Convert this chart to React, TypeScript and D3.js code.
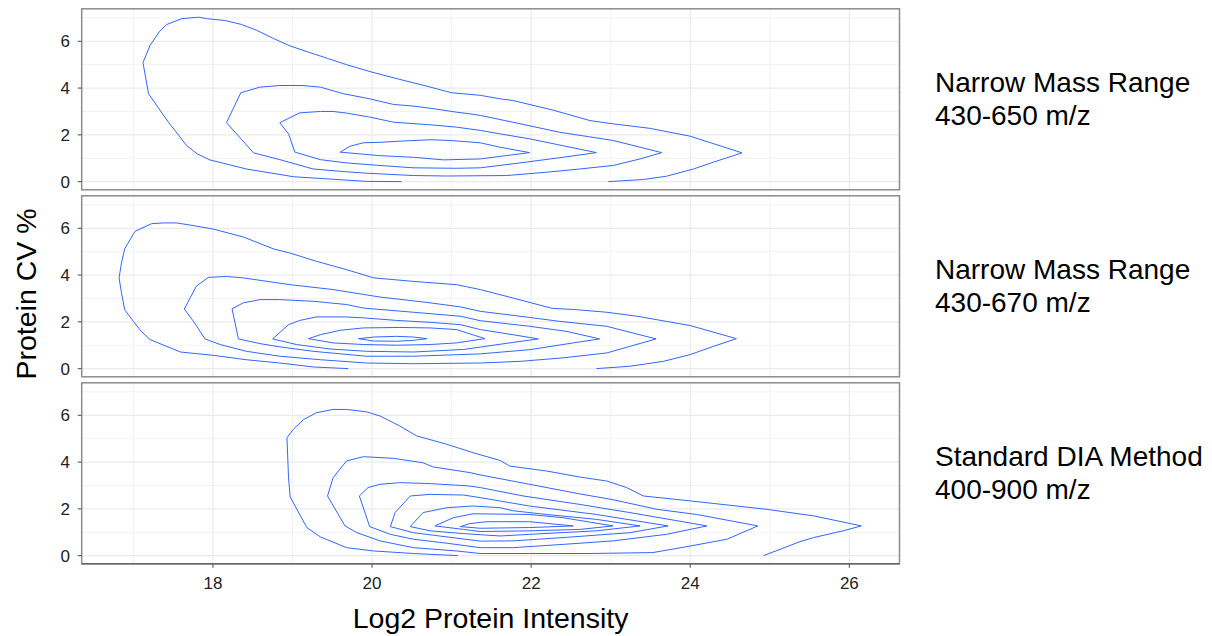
import React from 'react';
import * as d3 from 'd3';

type Pt = [number, number];

const xTicks = [18, 20, 22, 24, 26];
const xMinor = [17, 19, 21, 23, 25];
const yTicks = [0, 2, 4, 6];
const yMinor = [1, 3, 5, 7];

const stripLabels = [
  ['Narrow Mass Range', '430-650 m/z'],
  ['Narrow Mass Range', '430-670 m/z'],
  ['Standard DIA Method', '400-900 m/z'],
];

// density contours, [log2 intensity, CV %]
const narrow650: Pt[][] = [
  [[20.37,0.0],[19.93,0.01],[19.01,0.21],[18.42,0.54],[17.96,0.93],[17.80,1.19],[17.67,1.54],[17.44,2.54],[17.19,3.76],[17.12,5.09],[17.21,5.83],[17.33,6.43],[17.42,6.72],[17.61,6.97],[17.82,7.03],[17.92,6.97],[18.15,6.89],[18.36,6.72],[18.55,6.47],[18.76,6.12],[18.97,5.80],[19.26,5.47],[19.45,5.26],[19.68,5.00],[20.00,4.68],[20.35,4.37],[20.69,4.08],[21.00,3.80],[21.36,3.69],[21.61,3.54],[21.77,3.47],[22.26,3.07],[22.74,2.61],[23.03,2.47],[23.49,2.28],[24.00,1.94],[24.65,1.23],[24.29,0.83],[24.04,0.54],[23.70,0.23],[23.41,0.09],[22.97,0.0]],
  [[18.17,2.52],[18.35,3.80],[18.59,4.04],[18.84,4.11],[19.12,4.11],[19.35,4.04],[19.64,3.76],[19.97,3.54],[20.27,3.30],[20.52,3.23],[20.77,3.12],[21.06,2.97],[21.23,2.90],[21.36,2.83],[21.77,2.54],[22.36,2.11],[23.03,1.76],[23.64,1.24],[23.37,0.97],[23.03,0.69],[22.61,0.54],[22.19,0.40],[21.69,0.26],[20.94,0.24],[20.52,0.26],[19.93,0.36],[19.64,0.43],[19.26,0.54],[18.84,0.94],[18.51,1.23],[18.17,2.52]],
  [[18.84,2.52],[19.09,2.94],[19.35,3.00],[19.51,3.00],[19.68,2.93],[19.97,2.76],[20.27,2.54],[20.73,2.43],[21.06,2.33],[21.36,2.19],[21.61,2.04],[21.98,1.83],[22.82,1.24],[22.40,1.04],[21.77,0.76],[21.36,0.59],[21.06,0.57],[20.52,0.59],[20.10,0.69],[19.68,0.80],[19.35,0.94],[19.03,1.26],[18.95,2.04],[18.84,2.52]],
  [[19.60,1.26],[19.72,1.51],[19.89,1.66],[20.10,1.68],[20.35,1.73],[20.73,1.79],[20.98,1.76],[21.36,1.66],[21.61,1.47],[21.98,1.24],[21.61,1.08],[21.36,0.97],[20.90,0.93],[20.52,1.04],[20.10,1.11],[19.60,1.26]],
];

const narrow670: Pt[][] = [
  [[19.70,0.0],[19.26,0.07],[18.84,0.24],[18.42,0.38],[18.00,0.57],[17.59,0.71],[17.21,1.24],[17.10,1.59],[17.00,2.02],[16.89,2.52],[16.85,3.24],[16.82,3.88],[16.85,4.52],[16.89,5.12],[17.02,5.87],[17.23,6.20],[17.38,6.23],[17.54,6.23],[17.71,6.14],[18.00,5.97],[18.38,5.63],[18.76,5.12],[18.97,4.94],[19.30,4.59],[19.68,4.23],[20.02,3.88],[20.52,3.73],[21.06,3.59],[21.36,3.38],[21.61,3.16],[21.77,3.02],[22.26,2.58],[22.57,2.52],[22.95,2.41],[23.33,2.24],[24.00,1.84],[24.58,1.28],[24.29,0.95],[24.00,0.60],[23.66,0.31],[23.24,0.10],[22.82,0.0]],
  [[17.64,2.55],[17.79,3.52],[17.94,3.90],[18.17,3.94],[18.38,3.88],[18.97,3.59],[19.51,3.38],[20.10,3.06],[20.69,2.83],[21.11,2.64],[21.36,2.45],[21.86,2.24],[22.36,2.02],[22.95,1.81],[23.57,1.27],[23.24,0.95],[22.95,0.67],[22.40,0.46],[21.86,0.31],[21.36,0.24],[20.52,0.21],[19.93,0.24],[19.35,0.38],[18.84,0.53],[18.42,0.74],[18.09,1.03],[17.90,1.27],[17.77,1.95],[17.64,2.55]],
  [[18.24,2.56],[18.38,2.81],[18.59,2.95],[18.84,2.95],[19.26,2.88],[19.68,2.74],[19.89,2.59],[20.52,2.41],[21.11,2.24],[21.36,2.05],[21.98,1.81],[22.45,1.59],[22.86,1.27],[22.53,1.10],[21.98,0.81],[21.36,0.63],[20.52,0.53],[19.93,0.53],[19.26,0.74],[18.84,0.93],[18.59,1.07],[18.32,1.27],[18.24,2.56]],
  [[18.75,1.27],[18.95,1.88],[19.09,2.06],[19.30,2.21],[19.68,2.21],[19.89,2.17],[20.31,2.06],[20.73,1.98],[21.11,1.88],[21.36,1.67],[21.77,1.45],[22.09,1.27],[21.77,1.12],[21.36,0.92],[21.15,0.82],[20.52,0.71],[19.93,0.74],[19.47,0.84],[19.05,1.03],[18.75,1.27]],
  [[19.20,1.28],[19.35,1.45],[19.60,1.64],[19.89,1.74],[20.35,1.76],[20.73,1.74],[21.06,1.67],[21.42,1.28],[21.06,1.10],[20.73,1.03],[20.31,1.00],[19.89,1.03],[19.51,1.10],[19.20,1.28]],
  [[19.83,1.28],[20.02,1.35],[20.31,1.38],[20.52,1.35],[20.69,1.28],[20.52,1.21],[20.31,1.17],[20.02,1.18],[19.83,1.28]],
];

const standardDia: Pt[][] = [
  [[21.08,0.0],[20.52,0.09],[20.02,0.20],[19.68,0.34],[19.35,0.80],[19.18,1.20],[18.97,2.51],[18.95,3.33],[18.93,5.04],[19.01,5.40],[19.14,5.82],[19.30,6.11],[19.51,6.25],[19.68,6.25],[19.93,6.15],[20.10,5.97],[20.35,5.54],[20.56,5.12],[20.94,4.76],[21.27,4.40],[21.61,4.07],[21.73,3.83],[22.19,3.62],[22.61,3.36],[22.95,3.19],[23.20,2.91],[23.41,2.55],[24.00,2.34],[24.96,1.98],[25.55,1.70],[26.15,1.27],[25.92,1.06],[25.55,0.77],[25.38,0.60],[25.13,0.27],[24.92,0.0]],
  [[19.44,2.55],[19.51,3.33],[19.68,4.05],[19.89,4.23],[20.27,4.16],[20.64,3.97],[20.77,3.79],[21.23,3.55],[21.36,3.45],[21.98,3.05],[22.61,2.64],[23.03,2.39],[23.58,1.98],[24.08,1.76],[24.85,1.27],[24.46,0.70],[24.00,0.41],[23.53,0.13],[22.74,0.09],[21.98,0.09],[21.36,0.09],[21.06,0.20],[20.52,0.34],[20.10,0.63],[19.81,0.98],[19.66,1.27],[19.44,2.55]],
  [[19.84,2.55],[19.95,2.91],[20.10,3.05],[20.35,3.12],[20.73,3.08],[21.21,2.98],[21.36,2.91],[21.90,2.55],[22.61,2.19],[23.24,1.84],[24.21,1.27],[23.70,0.91],[23.03,0.63],[22.40,0.48],[21.77,0.34],[21.36,0.34],[20.94,0.53],[20.52,0.70],[20.23,0.91],[19.97,1.24],[19.84,2.55]],
  [[20.23,1.24],[20.29,1.84],[20.48,2.55],[20.73,2.62],[21.15,2.59],[21.36,2.48],[21.98,2.12],[22.82,1.76],[23.72,1.27],[23.24,0.98],[22.40,0.77],[21.77,0.63],[21.36,0.62],[20.94,0.80],[20.52,0.98],[20.23,1.24]],
  [[20.48,1.24],[20.64,1.84],[20.94,2.05],[21.27,2.12],[21.61,2.05],[21.77,1.92],[22.19,1.76],[22.82,1.55],[23.37,1.27],[22.82,1.06],[21.98,0.91],[21.61,0.84],[21.15,0.94],[20.73,1.06],[20.48,1.24]],
  [[20.79,1.27],[21.02,1.62],[21.27,1.79],[21.98,1.76],[22.40,1.62],[23.03,1.27],[22.61,1.12],[21.98,1.06],[21.36,1.03],[21.15,1.12],[20.79,1.27]],
  [[21.11,1.24],[21.23,1.37],[21.44,1.45],[21.98,1.45],[22.53,1.27],[21.98,1.20],[21.36,1.17],[21.11,1.24]],
];

const panels = [narrow650, narrow670, standardDia];

const W = 1212;
const H = 636;
const left = 81.7;
const right = 899.5;
const top0 = 8.8;
const panelH = 181;
const gap = 6;
const font = 'Liberation Sans, Arial, sans-serif';

export default function App() {
  const x = d3.scaleLinear().domain([16.35, 26.63]).range([left, right]);
  const y = d3.scaleLinear().domain([-0.35, 7.39]).range([panelH, 0]);
  const line = d3.line<Pt>().x(d => x(d[0])).y(d => y(d[1]));
  const bottom = top0 + 3 * panelH + 2 * gap;

  return (
    <div style={{ position: 'absolute', left: 0, top: 0 }}>
      <svg width={W} height={H} style={{ display: 'block', background: '#fff' }}>
        {panels.map((levels, i) => {
          const top = top0 + i * (panelH + gap);
          return (
            <g key={i} transform={`translate(0,${top})`}>
              {xMinor.map(t => (
                <line key={'xm' + t} x1={x(t)} x2={x(t)} y1={0} y2={panelH} stroke="#f2f2f2" strokeWidth={1} />
              ))}
              {yMinor.map(t => (
                <line key={'ym' + t} x1={left} x2={right} y1={y(t)} y2={y(t)} stroke="#f2f2f2" strokeWidth={1} />
              ))}
              {xTicks.map(t => (
                <line key={'xg' + t} x1={x(t)} x2={x(t)} y1={0} y2={panelH} stroke="#ebebeb" strokeWidth={1.2} />
              ))}
              {yTicks.map(t => (
                <line key={'yg' + t} x1={left} x2={right} y1={y(t)} y2={y(t)} stroke="#ebebeb" strokeWidth={1.2} />
              ))}
              {levels.map((c, j) => (
                <path key={j} d={line(c) || ''} fill="none" stroke="#3366FF" strokeWidth={1} />
              ))}
              <rect x={left} y={0} width={right - left} height={panelH} fill="none" stroke="#8c8c8c" strokeWidth={1.5} />
              {yTicks.map(t => (
                <g key={'yt' + t}>
                  <line x1={left - 4} x2={left} y1={y(t)} y2={y(t)} stroke="#666" strokeWidth={1.2} />
                  <text x={70} y={y(t)} dy="0.36em" textAnchor="end" fontFamily={font} fontSize={17} fill="#222">
                    {t}
                  </text>
                </g>
              ))}
              <text x={935} y={panelH / 2 - 7} fontFamily={font} fontSize={28} fill="#000">
                {stripLabels[i][0]}
              </text>
              <text x={935} y={panelH / 2 + 26} fontFamily={font} fontSize={28} fill="#000">
                {stripLabels[i][1]}
              </text>
            </g>
          );
        })}
        <line x1={left} x2={right} y1={bottom} y2={bottom} stroke="#666" strokeWidth={1.5} />
        {xTicks.map(t => (
          <g key={'xt' + t}>
            <line x1={x(t)} x2={x(t)} y1={bottom} y2={bottom + 4} stroke="#666" strokeWidth={1.2} />
            <text x={x(t)} y={589} textAnchor="middle" fontFamily={font} fontSize={17} fill="#222">
              {t}
            </text>
          </g>
        ))}
        <text x={(left + right) / 2} y={627.5} textAnchor="middle" fontFamily={font} fontSize={28.5} fill="#000">
          Log2 Protein Intensity
        </text>
        <text transform={`translate(36,294) rotate(-90)`} textAnchor="middle" fontFamily={font} fontSize={28.5} fill="#000">
          Protein CV %
        </text>
      </svg>
    </div>
  );
}
